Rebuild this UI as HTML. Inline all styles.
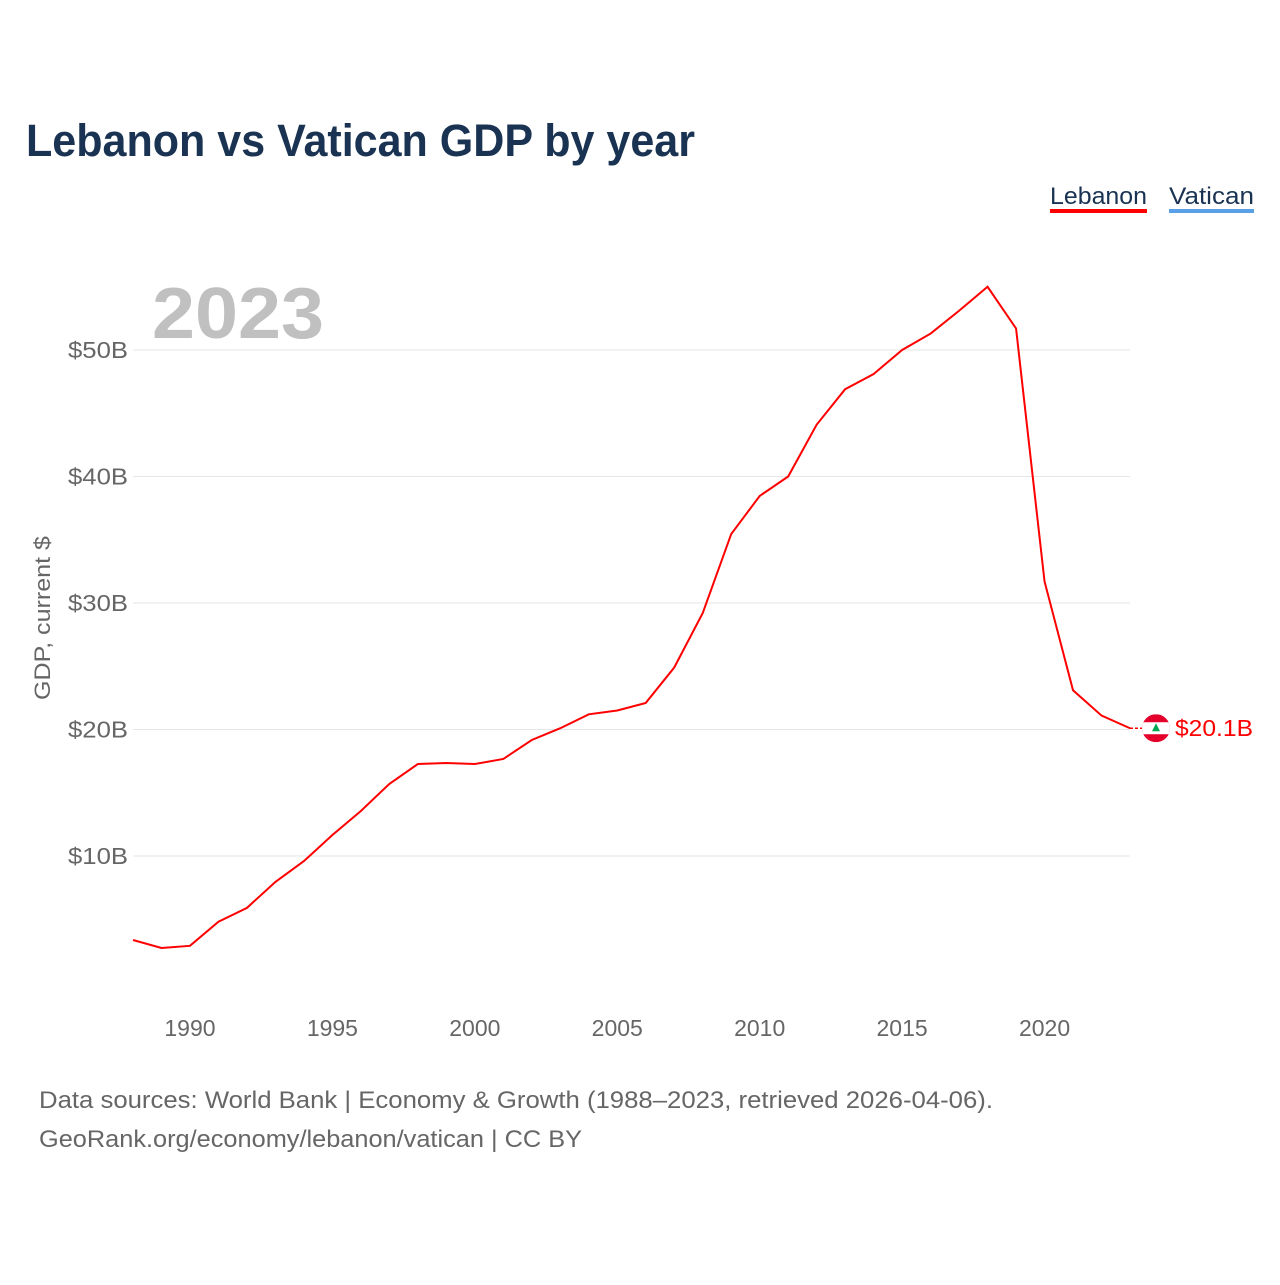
<!DOCTYPE html>
<html><head><meta charset="utf-8"><style>
body{margin:0;background:#fff;font-family:"Liberation Sans",sans-serif;}
#c{position:relative;width:1280px;height:1280px;}
</style></head><body>
<div id="c">
<svg width="1280" height="1280" xmlns="http://www.w3.org/2000/svg" font-family="Liberation Sans, sans-serif">
<text x="26" y="156" font-size="45" font-weight="bold" fill="#1a3353" textLength="669" lengthAdjust="spacingAndGlyphs">Lebanon vs Vatican GDP by year</text>
<g><text x="1050" y="204" font-size="24" fill="#1a3353" textLength="97" lengthAdjust="spacingAndGlyphs">Lebanon</text><rect x="1050" y="209" width="97" height="4" fill="#ff0000"/></g>
<g><text x="1169" y="204" font-size="24" fill="#1a3353" textLength="85" lengthAdjust="spacingAndGlyphs">Vatican</text><rect x="1169" y="209" width="85" height="4" fill="#5aa0e6"/></g>
<text x="152" y="338" font-size="72" font-weight="bold" fill="#c0c0c0" textLength="172" lengthAdjust="spacingAndGlyphs">2023</text>
<text transform="translate(50,618) rotate(-90)" text-anchor="middle" font-size="22" fill="#666" textLength="164" lengthAdjust="spacingAndGlyphs">GDP, current $</text>
<g id="grid"></g><g id="yt"></g><g id="xt"></g><g id="series"></g>
<text x="39" y="1108" font-size="24" fill="#666" textLength="954" lengthAdjust="spacingAndGlyphs">Data sources: World Bank | Economy &amp; Growth (1988–2023, retrieved 2026-04-06).</text>
<text x="39" y="1147" font-size="24" fill="#666" textLength="543" lengthAdjust="spacingAndGlyphs">GeoRank.org/economy/lebanon/vatican | CC BY</text>
</svg></div>
<script>
const years=[1988,1989,1990,1991,1992,1993,1994,1995,1996,1997,1998,1999,2000,2001,2002,2003,2004,2005,2006,2007,2008,2009,2010,2011,2012,2013,2014,2015,2016,2017,2018,2019,2020,2021,2022,2023];
const lebanon=[3.36,2.73,2.9,4.8,5.9,7.95,9.6,11.66,13.56,15.7,17.27,17.35,17.27,17.67,19.17,20.1,21.2,21.5,22.1,24.9,29.2,35.45,38.46,40.0,44.1,46.9,48.1,50.0,51.3,53.1,55.0,51.7,31.7,23.1,21.1,20.1];
const yTicks=[10,20,30,40,50];
const xTicks=[1990,1995,2000,2005,2010,2015,2020];
const NS='http://www.w3.org/2000/svg';
const xs=y=>133+(y-1988)*(1130-133)/35;
const ys=v=>982.5-v*12.65;
function mk(t,a,p){const e=document.createElementNS(NS,t);for(const k in a)e.setAttribute(k,a[k]);p.appendChild(e);return e;}
const grid=document.getElementById('grid'),yt=document.getElementById('yt'),xt=document.getElementById('xt'),se=document.getElementById('series');
yTicks.forEach(v=>{
 const l=mk('line',{x1:133,x2:1130,y1:ys(v),y2:ys(v),stroke:'#e6e6e6','stroke-width':1},grid);
 
 
 const t=mk('text',{x:128,y:ys(v)+8,'text-anchor':'end','font-size':23,fill:'#666',textLength:60,lengthAdjust:'spacingAndGlyphs'},yt);t.textContent='$'+v+'B';
 
 
});
xTicks.forEach(v=>{
 const t=mk('text',{x:xs(v),y:1036,'text-anchor':'middle','font-size':23,fill:'#666'},xt);t.textContent=v;
 
 
});
const p=mk('path',{d:years.map((y,i)=>(i?'L':'M')+xs(y)+','+ys(lebanon[i])).join(''),fill:'none',stroke:'#ff0000','stroke-width':2},se);


const lx=xs(years[years.length-1]),lv=lebanon[lebanon.length-1],ly=ys(lv);
const dl=mk('line',{x1:lx,x2:lx+12,y1:ly,y2:ly,stroke:'#ff0000','stroke-width':1.5,'stroke-dasharray':'3,2'},se);


const g=mk('g',{},se);


const cx=lx+26;
mk('clipPath',{id:'fc'},g);mk('circle',{cx:cx,cy:ly,r:14},document.getElementById('fc'));
const fg=mk('g',{'clip-path':'url(#fc)'},g);
mk('rect',{x:cx-14,y:ly-14,width:28,height:28,fill:'#e4002b'},fg);
mk('rect',{x:cx-14,y:ly-6,width:28,height:12,fill:'#fff'},fg);
mk('path',{d:`M${cx},${ly-5}L${cx-4},${ly+3}L${cx+4},${ly+3}Z`,fill:'#00a651'},fg);
const vt=mk('text',{x:cx+19,y:ly+8,'font-size':23,fill:'#ff0000',textLength:78,lengthAdjust:'spacingAndGlyphs'},se);vt.textContent='$'+lv.toFixed(1)+'B';


</script>
</body></html>
